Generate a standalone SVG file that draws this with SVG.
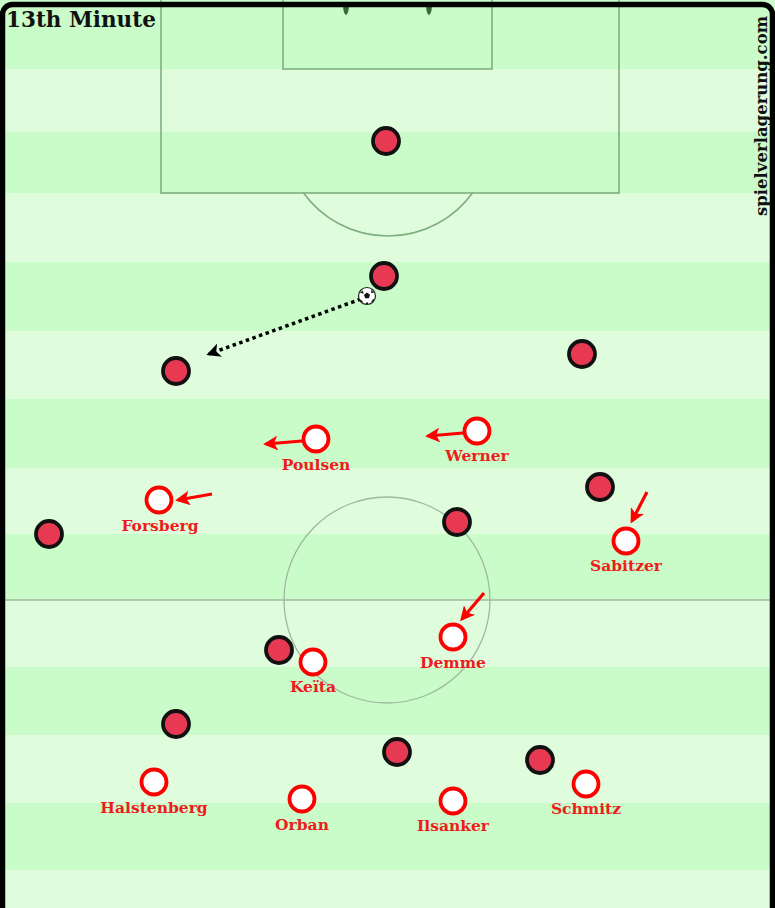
<svg xmlns="http://www.w3.org/2000/svg" width="775" height="908" viewBox="0 0 775 908">
<style>
.dk{fill:#c9fcc9}.lt{fill:#dffddd}
.ln{fill:none;stroke:#7fae7f;stroke-width:1.6}
.thin{fill:none;stroke:#a0b8a0;stroke-width:1.3}
.opp{fill:#e73a52;stroke:#111;stroke-width:3.8}
.own{fill:#fff;stroke:#ff0000;stroke-width:3.8}
.lbl{font-family:"DejaVu Serif","Liberation Serif",serif;font-weight:bold;font-size:15.5px;fill:#ee1c1c;text-anchor:middle}
.mv{stroke:#ff0000;stroke-width:3.2;fill:none;marker-end:url(#ra)}
.ps{stroke:#000;stroke-width:3.5;fill:none;stroke-dasharray:3.5 3.5;marker-end:url(#ba)}
</style>
<defs>
<marker id="ra" viewBox="0 0 10 10" refX="8" refY="5" markerWidth="4.6" markerHeight="4.6" orient="auto" markerUnits="strokeWidth"><path d="M0,0 L10,5 L0,10 L2.5,5 Z" fill="#ff0000"/></marker>
<marker id="ba" viewBox="0 0 10 10" refX="8" refY="5" markerWidth="4" markerHeight="4" orient="auto" markerUnits="strokeWidth"><path d="M0,0 L10,5 L0,10 L2.5,5 Z" fill="#000"/></marker>
</defs>
<g id="pitch">
<rect class="lt" x="0" y="0" width="775" height="908"/>
<rect class="dk" x="0" y="0" width="775" height="69"/>
<rect class="dk" x="0" y="132" width="775" height="61"/>
<rect class="dk" x="0" y="262" width="775" height="69"/>
<rect class="dk" x="0" y="399" width="775" height="69"/>
<rect class="dk" x="0" y="534" width="775" height="66"/>
<rect class="dk" x="0" y="667" width="775" height="68"/>
<rect class="dk" x="0" y="803" width="775" height="67"/>
<rect class="ln" x="161" y="-5" width="458" height="198"/>
<rect class="ln" x="283" y="-5" width="209" height="74"/>
<path class="ln" d="M303.5,193 A104.5,104.5 0 0 0 472.5,193"/>
<line class="thin" x1="0" y1="600" x2="775" y2="600"/>
<circle class="thin" cx="387" cy="600" r="103"/>
<path d="M343,6 L349,6 Q348.5,14 346,15 Q343.5,14 343,6 Z" fill="#336b33"/>
<path d="M426,6 L432,6 Q431.5,14 429,15 Q426.5,14 426,6 Z" fill="#336b33"/>
<rect x="2.5" y="4.5" width="770" height="930" rx="10" fill="none" stroke="#000" stroke-width="5.5"/>
<text x="6" y="27" font-family="DejaVu Serif,Liberation Serif,serif" font-weight="bold" font-size="21.5" fill="#111">13th Minute</text>
<text transform="translate(767,216) rotate(-90)" font-family="DejaVu Serif,Liberation Serif,serif" font-weight="bold" font-size="16.5" fill="#111">spielverlagerung.com</text>
</g>
<g id="connectors">
<line class="ps" x1="361" y1="299" x2="209" y2="354"/>
<line class="mv" x1="302" y1="441" x2="266" y2="444"/>
<line class="mv" x1="463" y1="433" x2="428" y2="436"/>
<line class="mv" x1="212" y1="494" x2="178" y2="500"/>
<line class="mv" x1="647" y1="492" x2="632" y2="521"/>
<line class="mv" x1="484" y1="593" x2="462" y2="619"/>
</g>
<g id="opponents">
<circle id="o1" class="opp" cx="386" cy="141" r="13"/>
<circle id="o2" class="opp" cx="384" cy="276" r="13"/>
<circle id="o3" class="opp" cx="176" cy="371" r="13"/>
<circle id="o4" class="opp" cx="582" cy="354" r="13"/>
<circle id="o5" class="opp" cx="600" cy="487" r="13"/>
<circle id="o6" class="opp" cx="49" cy="534" r="13"/>
<circle id="o7" class="opp" cx="457" cy="522" r="13"/>
<circle id="o8" class="opp" cx="279" cy="650" r="13"/>
<circle id="o9" class="opp" cx="176" cy="724" r="13"/>
<circle id="o10" class="opp" cx="397" cy="752" r="13"/>
<circle id="o11" class="opp" cx="540" cy="760" r="13"/>
</g>
<g id="ball">
<circle cx="367" cy="296" r="8.5" fill="#fff" stroke="#222" stroke-width="1.2"/>
<path d="M367,292.5 L370,294.8 L368.8,298.3 L365.2,298.3 L364,294.8 Z" fill="#111"/>
<path d="M360,293 L362.5,290.5 L363.8,293.5 Z M371,289.8 L374,292.5 L371.5,293.3 Z M359.5,299 L363.2,301.5 L360.8,302 Z M371,302 L373.5,298.5 L374,301 Z M365.5,304 L368.5,304 L367,301.8 Z" fill="#111"/>
</g>
<g id="poulsen"><circle class="own" cx="316" cy="439" r="12.5"/><text class="lbl" x="316" y="470">Poulsen</text></g>
<g id="werner"><circle class="own" cx="477" cy="431" r="12.5"/><text class="lbl" x="477" y="461">Werner</text></g>
<g id="forsberg"><circle class="own" cx="159" cy="500" r="12.5"/><text class="lbl" x="160" y="531">Forsberg</text></g>
<g id="sabitzer"><circle class="own" cx="626" cy="541" r="12.5"/><text class="lbl" x="626" y="571">Sabitzer</text></g>
<g id="demme"><circle class="own" cx="453" cy="637" r="12.5"/><text class="lbl" x="453" y="668">Demme</text></g>
<g id="keita"><circle class="own" cx="313" cy="662" r="12.5"/><text class="lbl" x="313" y="692">Keïta</text></g>
<g id="halstenberg"><circle class="own" cx="154" cy="782" r="12.5"/><text class="lbl" x="154" y="813">Halstenberg</text></g>
<g id="orban"><circle class="own" cx="302" cy="799" r="12.5"/><text class="lbl" x="302" y="830">Orban</text></g>
<g id="ilsanker"><circle class="own" cx="453" cy="801" r="12.5"/><text class="lbl" x="453" y="831">Ilsanker</text></g>
<g id="schmitz"><circle class="own" cx="586" cy="784" r="12.5"/><text class="lbl" x="586" y="814">Schmitz</text></g>
</svg>
